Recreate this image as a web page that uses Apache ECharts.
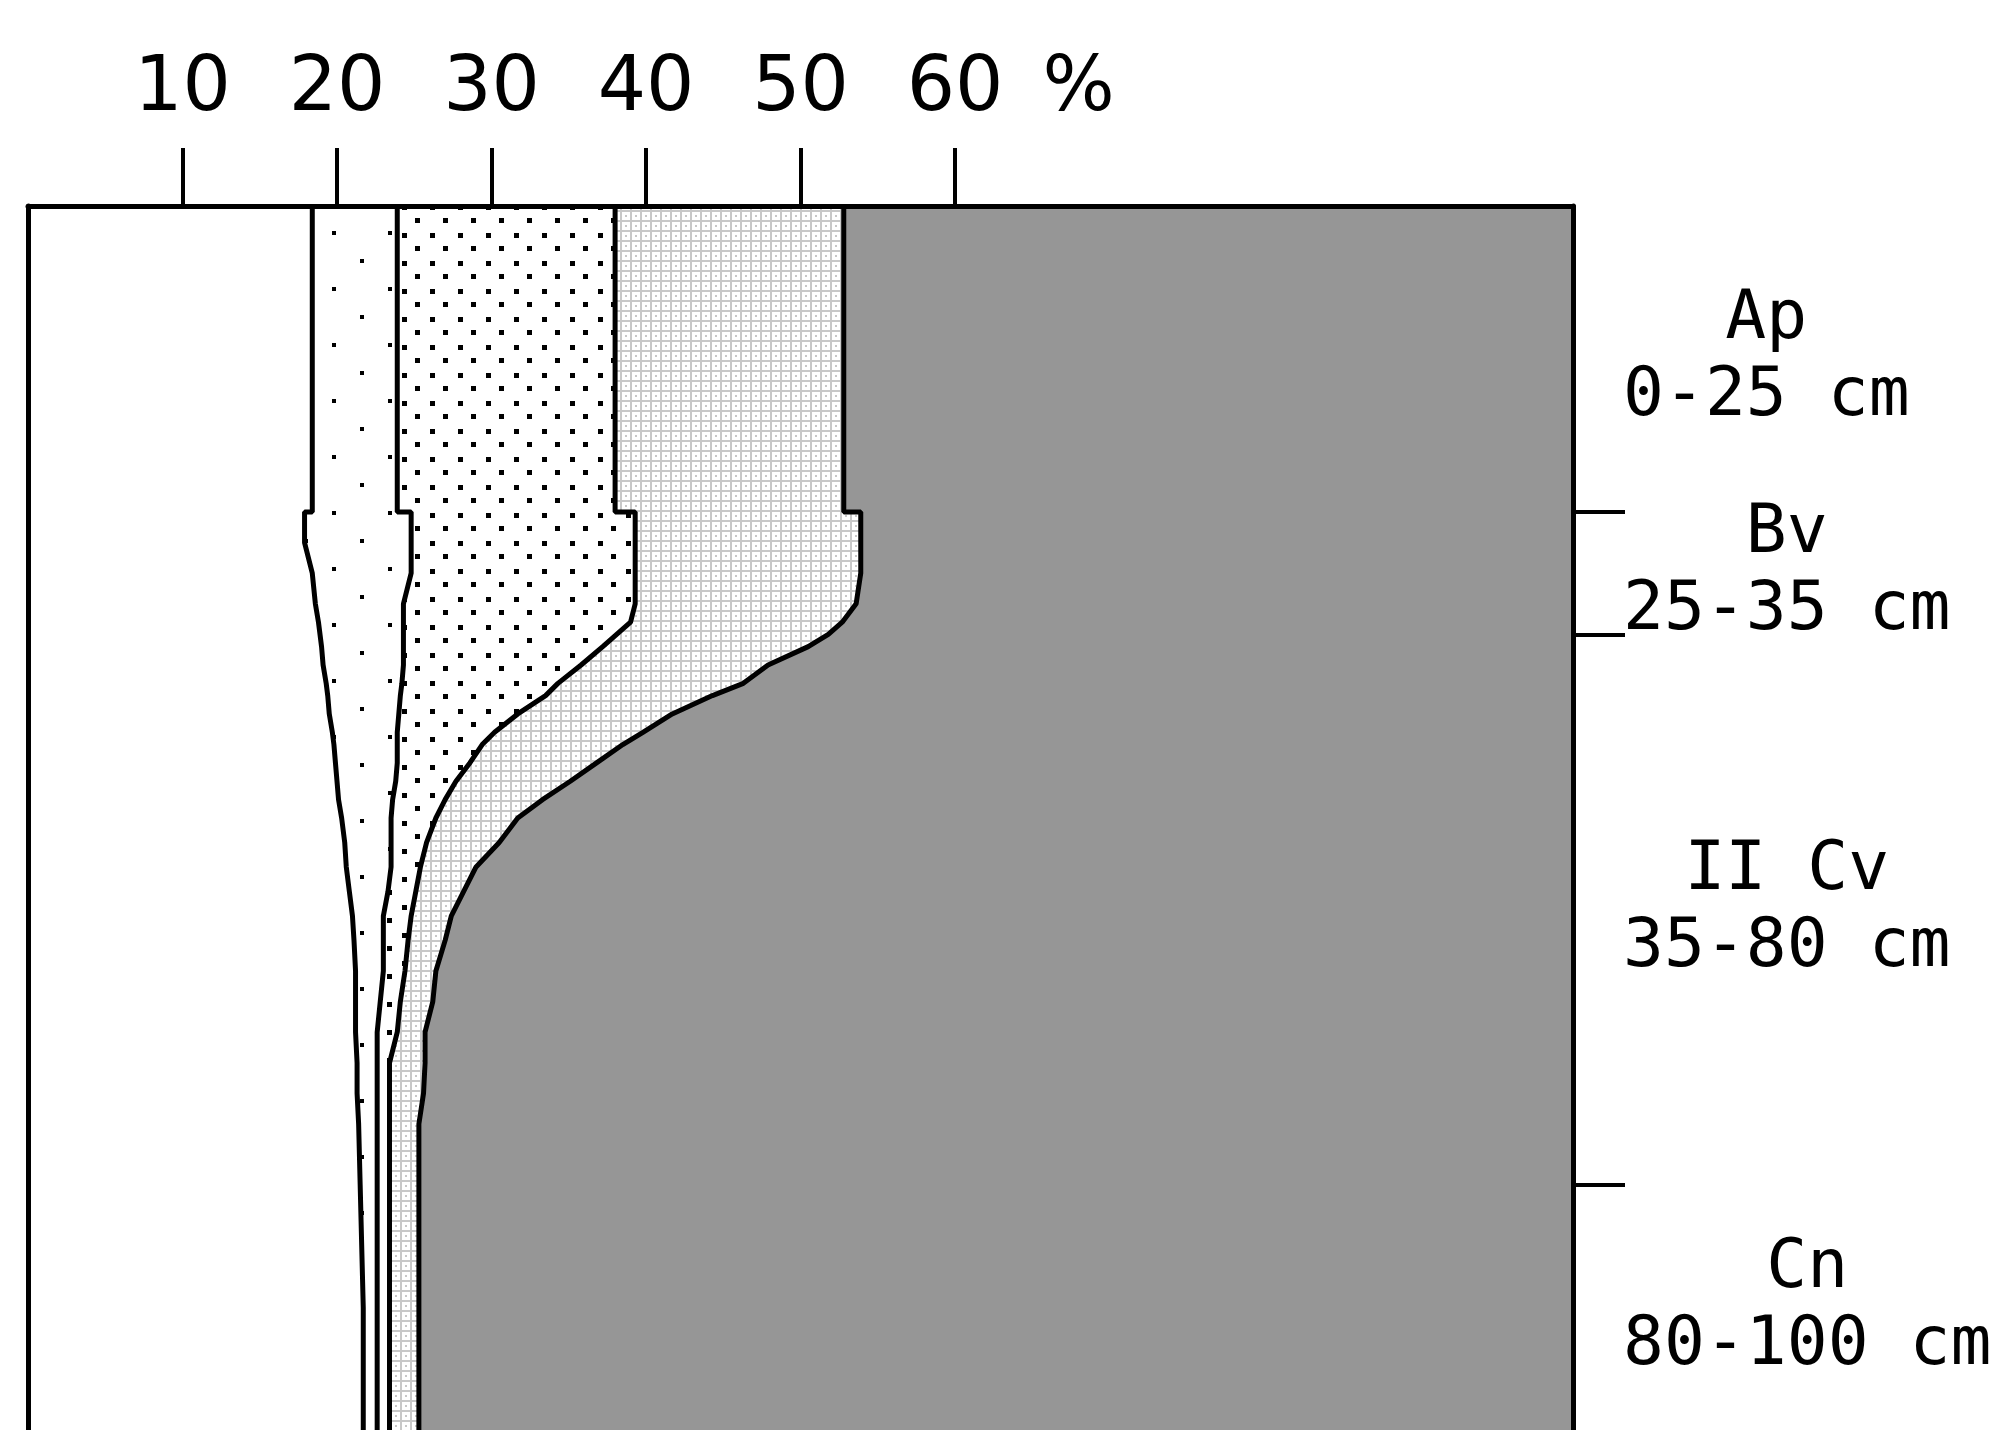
<!DOCTYPE html>
<html>
<head>
<meta charset="utf-8">
<script src="https://cdn.jsdelivr.net/npm/echarts@6/dist/echarts.min.js"></script>
<style>
html,body{margin:0;padding:0;background:#fff;}
#c{width:2009px;height:1430px;}
</style>
</head>
<body>
<div id="c"></div>
<script>
// ---- data (depth in cm, cumulative percentage boundaries) ----
const depths = [0,25,25,27.5,30,32.5,34,35,36,37.5,39,40,41.5,43,44,45.5,47,48.5,50,52,54,56,58,60,62.5,65,67.5,70,72.5,75,80,90,100];
const b1 = [18.4,18.4,17.9,17.9,18.4,18.6,18.8,18.9,19.0,19.1,19.3,19.4,19.5,19.7,19.8,19.9,20.0,20.1,20.3,20.5,20.6,20.8,21.0,21.1,21.2,21.2,21.2,21.3,21.3,21.4,21.5,21.7,21.7];
const b2 = [23.9,23.9,24.8,24.8,24.8,24.3,24.3,24.3,24.3,24.3,24.2,24.1,24.0,23.9,23.9,23.9,23.8,23.6,23.5,23.5,23.5,23.3,23.0,23.0,23.0,22.8,22.6,22.6,22.6,22.6,22.6,22.6,22.6];
const b3 = [38.0,38.0,39.3,39.3,39.3,39.3,39.0,38.1,37.2,35.8,34.3,33.5,31.7,30.2,29.4,28.6,27.7,27.0,26.4,25.8,25.4,25.1,24.8,24.6,24.4,24.1,23.9,23.4,23.4,23.4,23.4,23.4,23.4];
const b4 = [52.8,52.8,53.9,53.9,53.9,53.6,52.7,51.8,50.5,47.9,46.3,44.3,41.7,39.8,38.5,36.8,35.1,33.3,31.7,30.5,29.0,28.2,27.4,27.0,26.4,26.2,25.7,25.7,25.6,25.3,25.3,25.3,25.3];

const xTicks = [10,20,30,40,50,60];
const xUnit = '%';
const horizonNames = ['Ap','Bv','II Cv','Cn'];
const horizonRanges = ['0-25 cm','25-35 cm','35-80 cm','80-100 cm'];
const horizonBounds = [25,35,80];
const horizonMids = [12.5,30,57.5,90];

// ---- fills ----
function makeTile(w,h,draw){
  const c=document.createElement('canvas');c.width=w;c.height=h;
  const g=c.getContext('2d');g.fillStyle='#fff';g.fillRect(0,0,w,h);draw(g);return c;
}
const sparseTile = makeTile(56,56,g=>{g.fillStyle='#000';g.fillRect(52,7,4,4);g.fillRect(24,35,4,4);});
const denseTile = makeTile(28,28,g=>{g.fillStyle='#000';g.fillRect(10,9,5,5);g.fillRect(23,22,5,5);});
const hatchTile = makeTile(10,10,g=>{g.fillStyle='#c8c8c8';g.fillRect(0,0,10,2);g.fillRect(0,0,2,10);g.fillRect(5,5,2,2);});
const fills = [
  '#ffffff',
  {image: sparseTile, repeat: 'repeat'},
  {image: denseTile, repeat: 'repeat'},
  {image: hatchTile, repeat: 'repeat'},
  '#969696'
];
const X_MIN = 0, X_MAX = 100;
const edges = [null, b1, b2, b3, b4, null];

const chart = echarts.init(document.getElementById('c'), null, {renderer:'canvas'});
const FONT_TOP = 'DejaVu Sans';
const FONT_RIGHT = 'DejaVu Sans Mono';

const lineSeries = [b1,b2,b3,b4].map((b,i)=>({
  type:'line',
  name:'b'+(i+1),
  xAxisIndex:0, yAxisIndex:0,
  data: depths.map((d,k)=>[b[k], d]),
  symbol:'none',
  lineStyle:{color:'#000', width:5},
  z:5,
  silent:true,
  animation:false
}));

chart.setOption({
  backgroundColor:'#ffffff',
  animation:false,
  grid:{left:28, top:206, right:436, bottom:0, containLabel:false, outerBoundsMode:'none'},
  xAxis:{
    type:'value', position:'top', min:X_MIN, max:X_MAX, z:20,
    axisLine:{show:true, onZero:false, lineStyle:{color:'#000', width:5}},
    axisTick:{show:true, inside:false, length:58, customValues:xTicks, lineStyle:{color:'#000', width:4}},
    axisLabel:{show:true, customValues:xTicks.concat([68]), margin:78,
      formatter:(v)=> v===68 ? xUnit : String(v),
      fontFamily:FONT_TOP, fontSize:76, color:'#000'},
    splitLine:{show:false}
  },
  yAxis:[
    {type:'value', position:'left', min:0, max:100, inverse:true, z:20,
     axisLine:{show:true, onZero:false, lineStyle:{color:'#000', width:5}},
     axisTick:{show:false}, axisLabel:{show:false}, splitLine:{show:false}},
    {type:'value', position:'right', min:0, max:100, inverse:true, z:20,
     axisLine:{show:true, onZero:false, lineStyle:{color:'#000', width:5}},
     axisTick:{show:true, inside:false, length:52, customValues:horizonBounds, lineStyle:{color:'#000', width:4}},
     axisLabel:{show:true, customValues:horizonMids, margin:50, align:'left',
       formatter:(v)=>{const i=horizonMids.indexOf(v); return '{c|'+horizonNames[i]+'}\n{c|'+horizonRanges[i]+'}';},
       rich:{c:{align:'center', fontFamily:FONT_RIGHT, fontSize:68, lineHeight:77, color:'#000'}}},
     splitLine:{show:false}}
  ],
  series:[
    {
      type:'custom', coordinateSystem:'cartesian2d', xAxisIndex:0, yAxisIndex:0,
      silent:true, animation:false, z:2,
      data:[[0],[1],[2],[3],[4]],
      renderItem:function(params, api){
        const i = params.dataIndex;
        const L = edges[i], R = edges[i+1];
        const pts = [];
        for(let k=0;k<depths.length;k++) pts.push(api.coord([L ? L[k] : X_MIN, depths[k]]));
        for(let k=depths.length-1;k>=0;k--) pts.push(api.coord([R ? R[k] : X_MAX, depths[k]]));
        return {type:'polygon', shape:{points:pts}, style:{fill:fills[i], stroke:null}};
      }
    }
  ].concat(lineSeries)
});
</script>
</body>
</html>
